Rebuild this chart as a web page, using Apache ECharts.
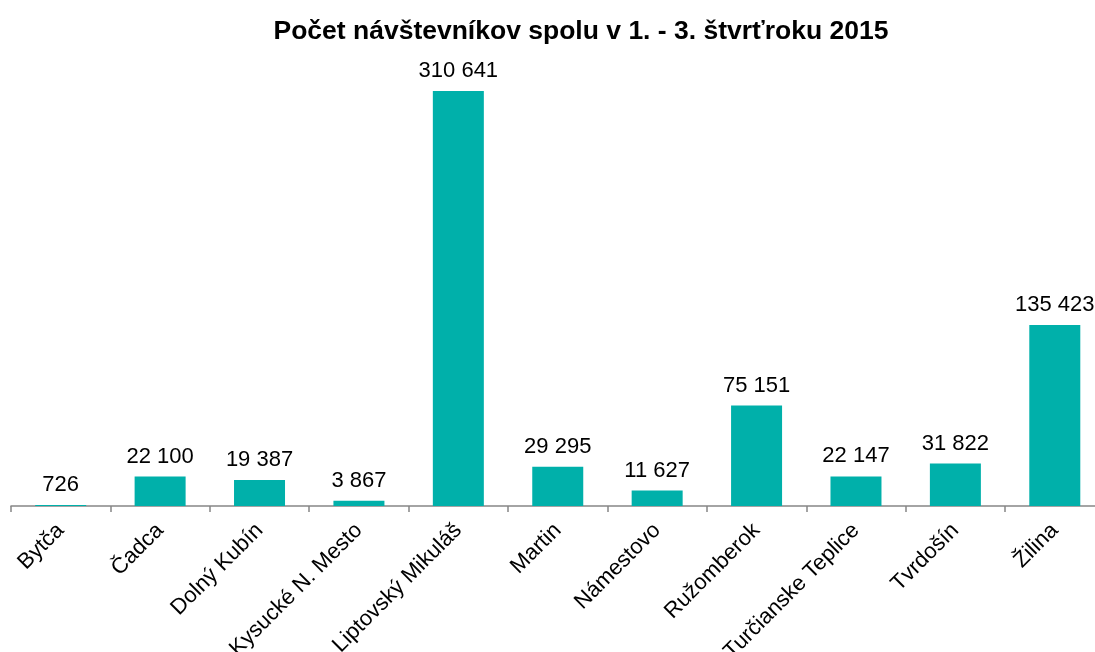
<!DOCTYPE html>
<html>
<head>
<meta charset="utf-8">
<script src="https://cdn.jsdelivr.net/npm/echarts@6/dist/echarts.min.js"></script>
<style>
	html, body { margin: 0; padding: 0; background: #fff; }
	#chart-div { width: 1095px; height: 652px; }
</style>
</head>
<body>
<div id="chart-div"></div>
<script>
// 数据
const g_title = "Počet návštevníkov spolu v 1. - 3. štvrťroku 2015";
const g_data_x = ["Bytča", "Čadca", "Dolný Kubín", "Kysucké N. Mesto",
	"Liptovský Mikuláš", "Martin", "Námestovo", "Ružomberok",
	"Turčianske Teplice", "Tvrdošín", "Žilina"];
const g_data_y = [726, 22100, 19387, 3867, 310641, 29295, 11627, 75151,
	22147, 31822, 135423];

// 千位空格分隔
const fmt = v => String(v).replace(/\B(?=(\d{3})+(?!\d))/g, " ");

const g_chart_option = {
	animation: false,
	title: {
		text: g_title,
		left: 576,
		top: 13,
		textAlign: "center",
		textStyle: {
			fontFamily: "Liberation Sans, Arial, sans-serif",
			fontSize: 26.5,
			fontWeight: "bold",
			color: "#000"
		}
	},
	grid: {
		left: 11,
		right: -9.5,
		top: 38.5,
		bottom: 146,
		outerBoundsMode: "none"
	},
	xAxis: {
		type: "category",
		data: g_data_x,
		axisLine: { lineStyle: { color: "#878787", width: 1.5 } },
		axisTick: { show: true, interval: 0, length: 6,
			lineStyle: { color: "#878787", width: 1.5 } },
		axisLabel: {
			interval: 0,
			rotate: 45,
			margin: 21,
			fontFamily: "Liberation Sans, Arial, sans-serif",
			fontSize: 22,
			color: "#000"
		}
	},
	yAxis: {
		type: "value",
		min: 0,
		max: 350000,
		show: false,
		splitLine: { show: false }
	},
	series: {
		type: "bar",
		data: g_data_y,
		barWidth: 51,
		itemStyle: { color: "#00B0AA" },
		label: {
			show: true,
			position: "top",
			distance: 9,
			fontFamily: "Liberation Sans, Arial, sans-serif",
			fontSize: 22,
			color: "#000",
			formatter: p => fmt(p.value)
		}
	}
};

const g_chart = echarts.init(document.getElementById("chart-div"));
g_chart.setOption(g_chart_option);
window.addEventListener("resize", g_chart.resize);
</script>
</body>
</html>
